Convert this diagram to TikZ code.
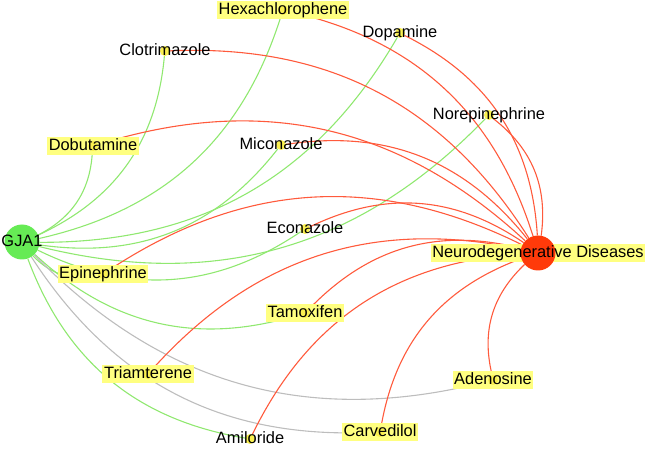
\documentclass[tikz,border=0pt]{standalone}
\usepackage{fontspec}
\setmainfont{Liberation Sans}
\usepackage{xcolor}

\definecolor{gjagreen}{HTML}{66EB55}
\definecolor{ndred}{HTML}{FF3A0A}
\definecolor{edgegreen}{HTML}{90E870}
\definecolor{edgered}{HTML}{FF5A3C}
\definecolor{edgegray}{HTML}{BDBDBD}
\definecolor{hlyellow}{HTML}{FFFF80}
\definecolor{dotyellow}{HTML}{FAF050}

\pgfdeclarelayer{edges}
\pgfdeclarelayer{marks}
\pgfdeclarelayer{dots}
\pgfsetlayers{edges,marks,dots,main}

\tikzset{
	hub/.style={circle, minimum size=35pt, inner sep=0pt},
	drug/.style={circle, fill=dotyellow, minimum size=10pt, inner sep=0pt},
	tag/.style={font=\fontsize{16.4}{18}\selectfont, inner xsep=1.5pt, inner ysep=1.5pt, text height=12pt, text depth=3.5pt},
	gedge/.style={draw=edgegreen, line width=1.1pt, bend right=30},
	redge/.style={draw=edgered, line width=1.1pt, bend right=30},
	nedge/.style={draw=edgegray, line width=1.1pt, bend right=30},
}

\begin{document}
\begin{tikzpicture}[x=1pt,y=-1pt]
		\useasboundingbox (0,0) rectangle (649,449);
		\begin{pgfonlayer}{dots}
			\node[hub, fill=gjagreen] (gja1) at (22,242) {};
			\node[hub, fill=ndred] (nd) at (538,253) {};
			\node[drug] (hexa) at (283,10) {};
			\node[drug] (clot) at (165,51) {};
			\node[drug] (dopa) at (400,33) {};
			\node[drug] (norep) at (489,115) {};
			\node[drug] (dobu) at (93,146) {};
			\node[drug] (mico) at (281,145) {};
			\node[drug] (econ) at (305,229) {};
			\node[drug] (epin) at (103,274) {};
			\node[drug] (tamox) at (305,313) {};
			\node[drug] (triam) at (148,374) {};
			\node[drug] (adeno) at (493,380) {};
			\node[drug] (carv) at (380,432) {};
			\node[drug] (amil) at (250,439) {};
		\end{pgfonlayer}
		%
		\node[tag] (gja1-t) at (gja1) {GJA1};
		\node[tag] (nd-t) at (nd) {Neurodegenerative Diseases};
		\node[tag] (hexa-t) at (hexa) {Hexachlorophene};
		\node[tag] (clot-t) at (clot) {Clotrimazole};
		\node[tag] (dopa-t) at (dopa) {Dopamine};
		\node[tag] (norep-t) at (norep) {Norepinephrine};
		\node[tag] (dobu-t) at (dobu) {Dobutamine};
		\node[tag] (mico-t) at (mico) {Miconazole};
		\node[tag] (econ-t) at (econ) {Econazole};
		\node[tag] (epin-t) at (epin) {Epinephrine};
		\node[tag] (tamox-t) at (tamox) {Tamoxifen};
		\node[tag] (triam-t) at (triam) {Triamterene};
		\node[tag] (adeno-t) at (adeno) {Adenosine};
		\node[tag] (carv-t) at (carv) {Carvedilol};
		\node[tag] (amil-t) at (amil) {Amiloride};
		%
		\begin{pgfonlayer}{marks}
			\fill[hlyellow] (nd-t.south west) rectangle (nd-t.north east);
			\fill[hlyellow] (hexa-t.south west) rectangle (hexa-t.north east);
			\fill[hlyellow] (dobu-t.south west) rectangle (dobu-t.north east);
			\fill[hlyellow] (epin-t.south west) rectangle (epin-t.north east);
			\fill[hlyellow] (tamox-t.south west) rectangle (tamox-t.north east);
			\fill[hlyellow] (triam-t.south west) rectangle (triam-t.north east);
			\fill[hlyellow] (adeno-t.south west) rectangle (adeno-t.north east);
			\fill[hlyellow] (carv-t.south west) rectangle (carv-t.north east);
		\end{pgfonlayer}
		%
		\begin{pgfonlayer}{edges}
			\draw[gedge] (gja1) to (hexa);
			\draw[gedge] (gja1) to (clot);
			\draw[gedge] (gja1) to (dopa);
			\draw[gedge] (gja1) to (norep);
			\draw[gedge] (gja1) to (dobu);
			\draw[gedge] (gja1) to (mico);
			\draw[gedge] (gja1) to (econ);
			\draw[gedge] (gja1) to (epin);
			\draw[gedge] (gja1) to (tamox);
			\draw[gedge] (gja1) to (amil);
			\draw[nedge] (gja1) to (adeno);
			\draw[nedge] (gja1) to (carv);
			%
			\draw[redge] (nd) to (hexa);
			\draw[redge] (nd) to (clot);
			\draw[redge] (nd) to (dopa);
			\draw[redge] (nd) to (norep);
			\draw[redge] (nd) to (dobu);
			\draw[redge] (nd) to (mico);
			\draw[redge] (nd) to (econ);
			\draw[redge] (nd) to (epin);
			\draw[redge] (nd) to (tamox);
			\draw[redge] (nd) to (triam);
			\draw[redge] (nd) to (adeno);
			\draw[redge] (nd) to (carv);
			\draw[redge] (nd) to (amil);
		\end{pgfonlayer}
	\end{tikzpicture}
\end{document}
